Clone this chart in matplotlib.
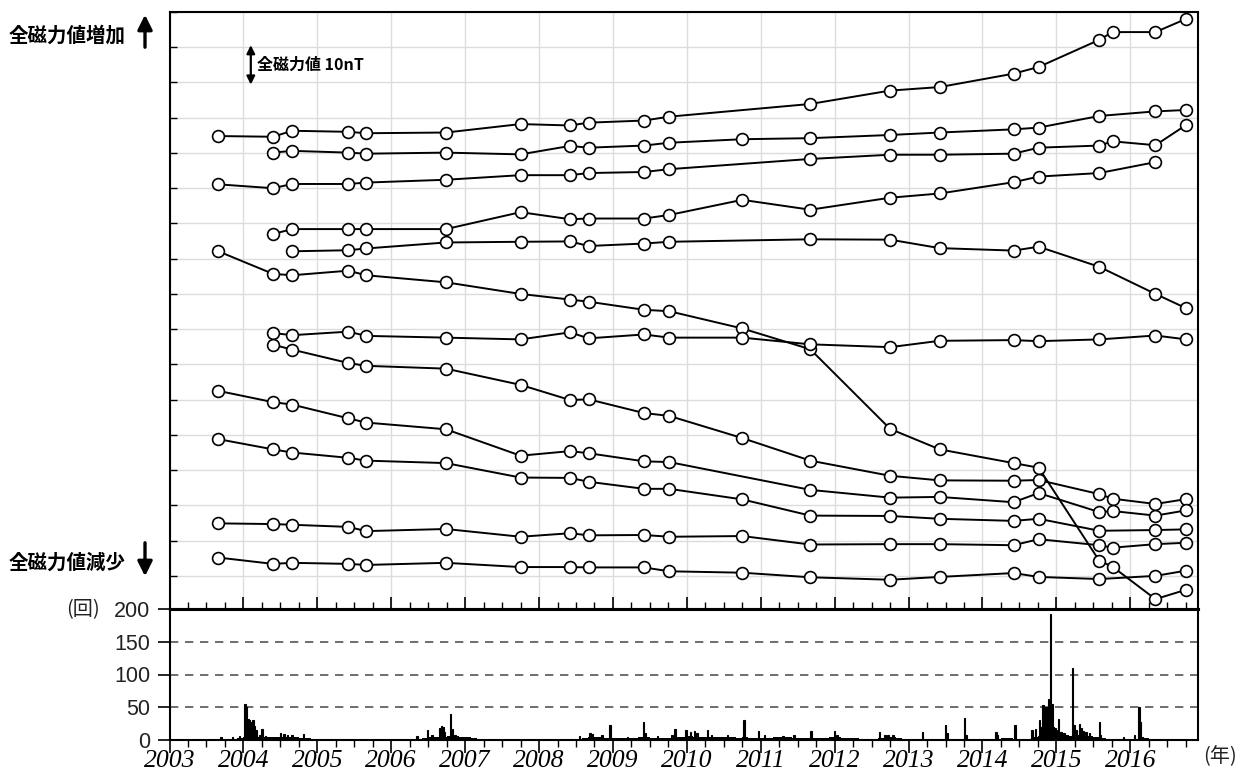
import numpy as np
import matplotlib
matplotlib.use("Agg")
import matplotlib.pyplot as plt
from matplotlib.ticker import MultipleLocator

plt.rcParams['font.family'] = ['Noto Sans CJK JP', 'DejaVu Sans']

# survey dates (decimal year) shared by all stations
dates = [2003.66, 2004.40, 2004.66, 2005.42, 2005.66, 2006.74, 2007.75, 2008.42, 2008.67,
         2009.42, 2009.76, 2010.75, 2011.67, 2012.75, 2013.42, 2014.42, 2014.76, 2015.58,
         2015.76, 2016.34, 2016.76]

# total magnetic intensity, nT (relative, offset per station); None = not measured
st_a = [124.8, 124.6, 126.3, 126.0, 125.6, 125.8, 128.2, 127.8, 128.6, 129.2, 130.3, None,
        133.9, 137.7, 138.7, 142.5, 144.4, 152.1, 154.3, 154.3, 158.1]
st_b = [None, 120.1, 120.6, 120.1, 119.8, 120.1, 119.6, 122.0, 121.5, 122.1, 122.9, 123.9,
        124.2, 125.1, 125.8, 126.7, 127.2, 130.5, None, 131.8, 132.2]
st_c = [111.1, 110.0, 111.2, 111.2, 111.6, 112.4, 113.7, 113.7, 114.3, 114.6, 115.4, None,
        118.3, 119.5, 119.5, 119.8, 121.5, 122.1, 123.3, 122.2, 128.0]
st_d = [None, 97.0, 98.4, 98.4, 98.4, 98.4, 103.2, 101.2, 101.4, 101.4, 102.4, 106.7,
        103.9, 107.3, 108.5, 111.7, 113.3, 114.3, None, 117.4, None]
st_e = [None, None, 92.1, 92.4, 92.9, 94.6, 94.8, 94.9, 93.6, 94.3, 94.8, None,
        95.5, 95.4, 93.0, 92.3, 93.4, 87.7, None, 80.0, 75.9]
st_f = [92.1, 85.7, 85.3, 86.6, 85.3, 83.3, 80.0, 78.4, 77.8, 75.5, 75.1, 70.2,
        64.3, 41.7, 35.9, 32.0, 30.7, 4.3, 2.6, -6.6, -3.9]
st_g = [None, 68.9, 68.3, 69.3, 68.1, 67.6, 67.1, 69.1, 67.4, 68.5, 67.6, 67.6,
        65.7, 64.9, 66.7, 66.9, 66.6, 67.1, None, 68.2, 67.1]
st_h = [None, 65.6, 64.2, 60.4, 59.6, 58.8, 54.2, 49.9, 50.1, 46.2, 45.4, 39.1,
        32.7, 28.4, 27.1, 27.0, 27.2, 23.2, 21.9, 20.4, 21.8]
st_i = [52.5, 49.3, 48.6, 44.7, 43.5, 41.6, 34.1, 35.4, 34.8, 32.5, 32.3, None,
        24.4, 22.2, 22.4, 20.9, 23.5, 18.1, 18.4, 17.1, 18.6]
st_j = [38.8, 35.9, 35.0, 33.5, 32.7, 32.0, 27.9, 27.8, 26.7, 24.7, 24.7, 21.7,
        17.1, 17.0, 16.2, 15.6, 16.2, 12.8, None, 13.0, 13.2]
st_k = [14.9, 14.7, 14.5, 13.9, 12.7, 13.3, 11.1, 12.1, 11.5, 11.6, 11.1, 11.3,
        8.9, 9.0, 9.0, 8.7, 10.4, 8.7, 8.0, 9.0, 9.4]
st_l = [5.2, 3.4, 3.7, 3.4, 3.1, 3.7, 2.5, 2.5, 2.4, 2.4, 1.3, 0.9,
        -0.4, -1.1, -0.3, 0.8, -0.3, -0.9, None, 0.0, 1.5]
stations = [st_a, st_b, st_c, st_d, st_e, st_f, st_g, st_h, st_i, st_j, st_k, st_l]

# earthquake counts: monthly background level, 2003..2016
bg_years = list(range(2003, 2017))
bg_counts = [
    [1, 1, 1, 1, 1, 2, 1, 1, 2, 2, 2, 3],
    [4, 4, 4, 5, 5, 5, 5, 4, 4, 3, 3, 2],
    [2, 1, 1, 1, 1, 1, 1, 1, 1, 1, 1, 1],
    [1, 1, 1, 2, 2, 3, 4, 4, 5, 6, 6, 5],
    [4, 3, 2, 2, 2, 1, 1, 1, 1, 1, 1, 1],
    [1, 1, 1, 1, 1, 2, 2, 3, 4, 4, 3, 3],
    [3, 3, 3, 3, 4, 4, 3, 3, 3, 3, 4, 4],
    [6, 5, 5, 4, 5, 4, 4, 4, 3, 4, 3, 3],
    [3, 3, 4, 4, 4, 3, 3, 3, 3, 3, 3, 4],
    [4, 3, 3, 3, 2, 2, 2, 3, 4, 4, 3, 2],
    [2, 2, 2, 2, 2, 2, 2, 2, 2, 2, 2, 2],
    [2, 2, 2, 3, 3, 2, 2, 2, 4, 6, 10, 15],
    [10, 8, 6, 8, 8, 6, 4, 3, 2, 2, 2, 2],
    [2, 2, 3, 1, 0, 0, 0, 0, 0, 0, 0, 0],
]
# daily peaks
eq_dates = [2003.70, 2003.85, 2003.95,
            2004.02, 2004.04, 2004.06, 2004.08, 2004.10, 2004.13, 2004.15, 2004.17,
            2004.22, 2004.25, 2004.30, 2004.50, 2004.55, 2004.60, 2004.66, 2004.81,
            2006.35, 2006.49, 2006.55, 2006.66, 2006.68, 2006.70, 2006.72, 2006.80,
            2006.83, 2006.86, 2006.95,
            2008.55, 2008.69, 2008.72, 2008.85, 2008.96,
            2009.20, 2009.41, 2009.44, 2009.60, 2009.80, 2009.84,
            2009.99, 2010.05, 2010.10, 2010.14, 2010.28, 2010.33, 2010.55, 2010.77,
            2010.97, 2011.05, 2011.30, 2011.45, 2011.68, 2012.00, 2012.03, 2012.61,
            2012.68, 2012.72, 2012.79, 2013.19, 2013.50, 2013.52, 2013.76, 2013.78,
            2014.18, 2014.20, 2014.44, 2014.67, 2014.72, 2014.77, 2014.80, 2014.82,
            2014.84, 2014.86, 2014.89, 2014.92, 2014.94, 2014.96, 2014.98, 2015.00,
            2015.03, 2015.06, 2015.10, 2015.15, 2015.22, 2015.24, 2015.27, 2015.31,
            2015.34, 2015.37, 2015.40, 2015.45, 2015.58, 2015.60, 2015.91, 2016.06,
            2016.12, 2016.13, 2016.16]
eq_counts = [4, 5, 6,
             55, 50, 32, 30, 28, 30, 22, 15,
             8, 17, 6, 10, 9, 8, 7, 9,
             6, 15, 8, 18, 21, 20, 12, 39,
             17, 8, 5,
             6, 11, 9, 7, 23,
             5, 27, 10, 6, 8, 17,
             15, 12, 14, 10, 15, 8, 7, 30,
             13, 7, 6, 7, 13, 14, 8, 12,
             8, 8, 7, 12, 23, 10, 33, 8,
             12, 8, 23, 15, 17, 31, 20, 54,
             47, 50, 63, 192, 55, 20, 18, 15,
             32, 12, 10, 8, 110, 23, 15, 24,
             18, 14, 12, 10, 27, 8, 4, 7,
             50, 28, 5]

W, H = 1249, 775
fig = plt.figure(figsize=(W / 100, H / 100), dpi=100)
x0, x1 = 169.5, 1198.3
ax1 = fig.add_axes([x0 / W, 1 - 609 / H, (x1 - x0) / W, (609 - 12) / H])
ax2 = fig.add_axes([x0 / W, 1 - 740 / H, (x1 - x0) / W, (740 - 609) / H])
xmin, xmax = 2003.0, 2016.92

# --- top panel: total magnetic intensity
for vals in stations:
    xs = [d for d, v in zip(dates, vals) if v is not None]
    ys = [v for v in vals if v is not None]
    ax1.plot(xs, ys, color='k', lw=1.4, marker='o', ms=8.5, mfc='white',
             mec='k', mew=1.2, zorder=3)

ax1.set_xlim(xmin, xmax)
ax1.set_ylim(-9.4, 160)
ax1.xaxis.set_major_locator(MultipleLocator(1))
ax1.xaxis.set_minor_locator(MultipleLocator(0.25))
ax1.yaxis.set_major_locator(MultipleLocator(10))
ax1.grid(True, which='major', color='#dcdcdc', lw=1.0, zorder=0)
ax1.tick_params(axis='x', which='major', direction='in', length=9, width=1.2,
                labelbottom=False)
ax1.tick_params(axis='x', which='minor', direction='in', length=5, width=1.0)
ax1.tick_params(axis='y', direction='in', length=5, width=1.0, labelleft=False)
for s in ax1.spines.values():
    s.set_linewidth(1.5)
ax1.spines['bottom'].set_linewidth(2.2)

# scale bar: 10 nT
ax1.annotate('', xy=(2004.10, 150.6), xytext=(2004.10, 139.4),
             arrowprops=dict(arrowstyle='<|-|>', color='k', lw=1.6, mutation_scale=12,
                             shrinkA=0, shrinkB=0))
ax1.text(2004.19, 145, '全磁力値 10nT', fontsize=11.5, fontweight='bold', va='center',
         ha='left')

# --- bottom panel: earthquake counts
bg_x, bg_y = [], []
for yr, row in zip(bg_years, bg_counts):
    for m, c in enumerate(row):
        bg_x.append(yr + (m + 0.5) / 12)
        bg_y.append(c)
ax2.bar(bg_x, bg_y, width=1 / 12, color='k', lw=0, zorder=3)
ax2.bar(eq_dates, eq_counts, width=0.02, color='k', edgecolor='k', lw=0.8, zorder=3)

ax2.set_xlim(xmin, xmax)
ax2.set_ylim(0, 200)
ax2.set_yticks([0, 50, 100, 150, 200])
for yv in [50, 100, 150]:
    ax2.axhline(yv, color='#555555', lw=1.2, dashes=(5, 4), zorder=1)
ax2.xaxis.set_major_locator(MultipleLocator(1))
ax2.xaxis.set_minor_locator(MultipleLocator(0.25))
ax2.set_xticks(range(2003, 2017))
ax2.set_xticklabels([str(y) for y in range(2003, 2017)], fontfamily='Liberation Serif',
                    fontstyle='italic', fontsize=18.5)
ax2.tick_params(axis='x', which='major', direction='out', length=9, width=1.2, pad=-2)
ax2.tick_params(axis='x', which='minor', direction='out', length=5, width=1.0)
ax2.tick_params(axis='y', direction='out', length=9, width=1.2, pad=5, labelsize=15.5,
                labelcolor='#222222')
for lab in ax2.get_yticklabels():
    lab.set_fontfamily(['Liberation Sans', 'DejaVu Sans'])
for s in ax2.spines.values():
    s.set_linewidth(1.5)
ax2.spines['top'].set_linewidth(2.2)

fig.text(66 / W, 1 - 610 / H, '(回)', fontsize=14.5, color='#222222', va='center',
         ha='left')
fig.text(1203 / W, 1 - 757 / H, '(年)', fontsize=14.5, color='#222222', va='center',
         ha='left')

# --- left side labels
fig.text(9 / W, 1 - 36 / H, '全磁力値増加', fontsize=14, fontweight='bold',
         va='center', ha='left')
fig.text(9 / W, 1 - 563 / H, '全磁力値減少', fontsize=14, fontweight='bold',
         va='center', ha='left')
fig.add_artist(plt.matplotlib.patches.FancyArrowPatch(
    (145 / W, 1 - 50 / H), (145 / W, 1 - 12 / H), transform=fig.transFigure,
    arrowstyle='-|>', mutation_scale=22, lw=2.4, color='k'))
fig.add_artist(plt.matplotlib.patches.FancyArrowPatch(
    (145 / W, 1 - 540 / H), (145 / W, 1 - 579 / H), transform=fig.transFigure,
    arrowstyle='-|>', mutation_scale=22, lw=2.4, color='k'))

fig.savefig('out.png', dpi=100)
